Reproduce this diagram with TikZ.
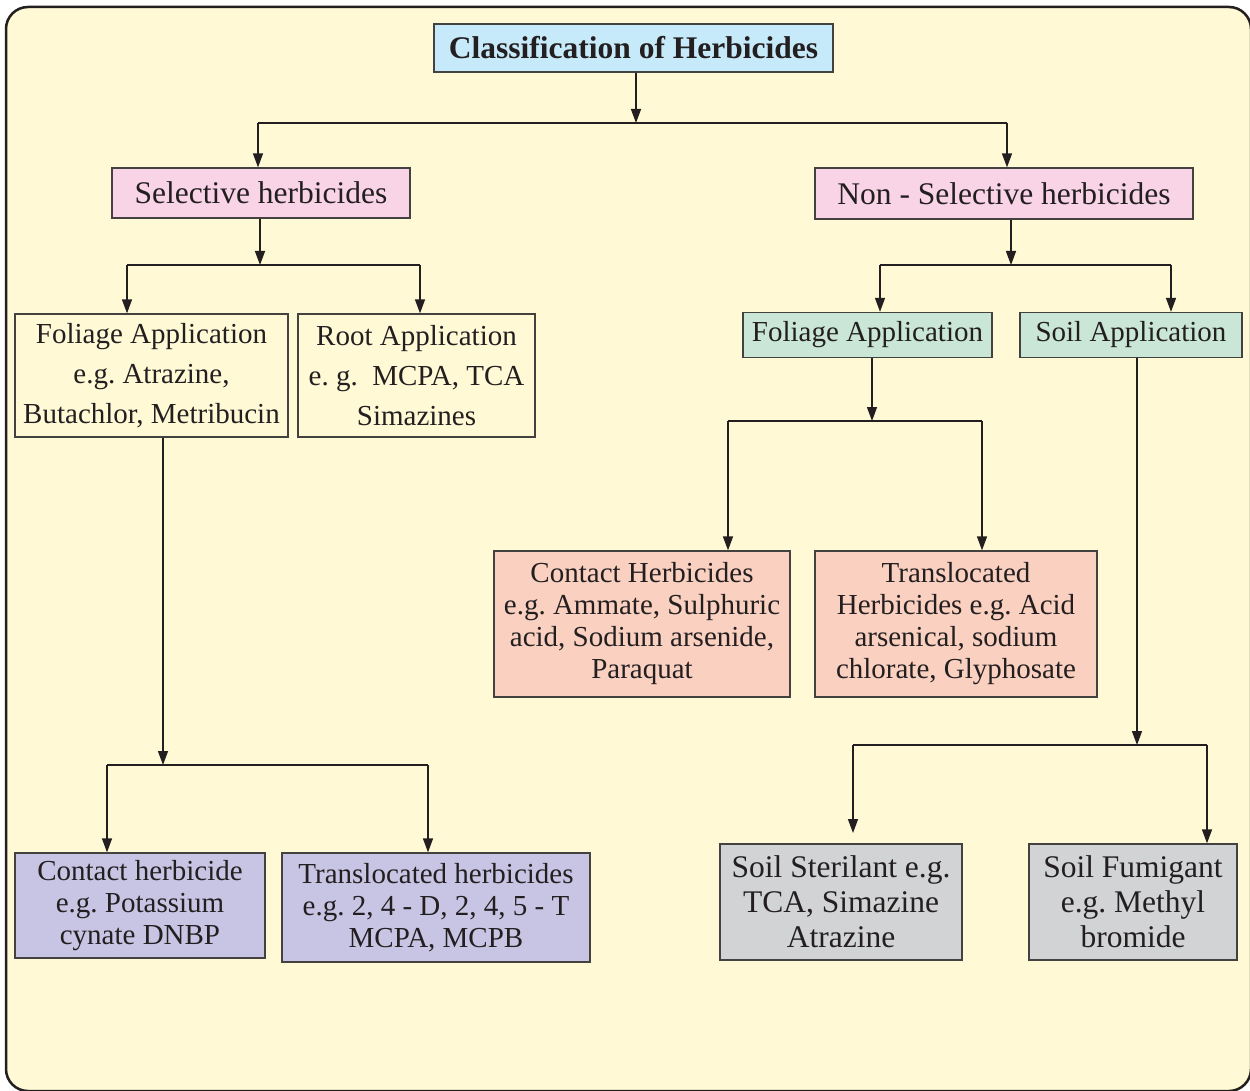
\documentclass[tikz,border=0pt]{standalone}
\usepackage{fontspec}
\setmainfont{Liberation Serif}
\usetikzlibrary{arrows.meta}
\frenchspacing
\definecolor{cream}{HTML}{FFF9D6}
\definecolor{inkc}{HTML}{231F20}
\definecolor{titlec}{HTML}{C7EAFB}
\definecolor{pinkc}{HTML}{F9D4E7}
\definecolor{greenc}{HTML}{C9E6D6}
\definecolor{salmonc}{HTML}{FAD0C0}
\definecolor{purplec}{HTML}{C8C4E4}
\definecolor{greyc}{HTML}{D1D3D4}
\tikzset{
  bx/.style={draw=inkc!85, line width=1.3pt, inner sep=0pt, align=center, text=inkc},
  fs/.style={font=\fontsize{29}{32}\selectfont},
  fsw/.style={font=\fontsize{29}{40}\selectfont},
  fsb/.style={font=\fontsize{31.5}{35}\selectfont},
  conn/.style={draw=inkc, line width=1.4pt},
  arr/.style={conn, -{Triangle[length=14pt,width=10pt]}}
}
\begin{document}
\begin{tikzpicture}[x=1pt,y=-1pt]
\useasboundingbox (0,0) rectangle (1250,1091);
\draw[line width=2.5pt, draw=inkc, fill=cream, rounded corners=22pt] (6,7) rectangle (1251,1091);

% nodes
\node[bx, fill=titlec, minimum width=399pt, minimum height=48pt, font=\fontsize{31.5}{35}\selectfont\bfseries] (title) at (633.5,48) {Classification of Herbicides};
\node[bx, fsb, fill=pinkc, minimum width=298pt, minimum height=50pt] (sel) at (261,193) {Selective herbicides};
\node[bx, fsb, fill=pinkc, minimum width=378pt, minimum height=51pt] (nonsel) at (1004,193.5) {Non - Selective herbicides};
\node[bx, fsw, fill=cream, minimum width=273pt, minimum height=123pt] (folL) at (151.5,375.5) {Foliage Application\\e.g. Atrazine,\\Butachlor, Metribucin};
\node[bx, fsw, fill=cream, minimum width=237pt, minimum height=123pt] (root) at (416.5,375.5) {Root Application\\e. g.\ \ MCPA, TCA\\Simazines};
\node[bx, fs, fill=greenc, minimum width=249pt, minimum height=45pt] (folR) at (867.5,335) {Foliage Application};
\node[bx, fs, fill=greenc, minimum width=222pt, minimum height=45pt] (soil) at (1131,335) {Soil Application};
\node[bx, fs, fill=salmonc, minimum width=296pt, minimum height=146pt] (contR) at (642,624) {Contact Herbicides\\e.g. Ammate, Sulphuric\\acid, Sodium arsenide,\\Paraquat};
\node[bx, fs, fill=salmonc, minimum width=282pt, minimum height=146pt] (transR) at (956,624) {Translocated\\Herbicides e.g. Acid\\arsenical, sodium\\chlorate, Glyphosate};
\node[bx, fs, fill=purplec, minimum width=250pt, minimum height=105pt] (contL) at (140,905.5) {Contact herbicide\\e.g. Potassium\\cynate DNBP};
\node[bx, fs, fill=purplec, minimum width=308pt, minimum height=109pt] (transL) at (436,907.5) {Translocated herbicides\\e.g. 2, 4 - D, 2, 4, 5 - T\\MCPA, MCPB};
\node[bx, fsb, fill=greyc, minimum width=242pt, minimum height=116pt] (steril) at (841,902) {Soil Sterilant e.g.\\TCA, Simazine\\Atrazine};
\node[bx, fsb, fill=greyc, minimum width=208pt, minimum height=116pt] (fumig) at (1133,902) {Soil Fumigant\\e.g. Methyl\\bromide};

% junction coordinates
\coordinate (j0) at (636,123);
\coordinate (j0L) at (258,123);
\coordinate (j0R) at (1007,123);
\coordinate (j1) at (260,265);
\coordinate (j1L) at (127,265);
\coordinate (j1R) at (420,265);
\coordinate (j2) at (163,765);
\coordinate (j2L) at (107,765);
\coordinate (j2R) at (428,765);
\coordinate (j3) at (1011,265);
\coordinate (j3L) at (880,265);
\coordinate (j3R) at (1171,265);
\coordinate (j4) at (872,421);
\coordinate (j4L) at (728,421);
\coordinate (j4R) at (982,421);
\coordinate (j5) at (1137,745);
\coordinate (j5L) at (853,745);
\coordinate (j5R) at (1207,745);
\coordinate (sterTop) at (853,833);

% connectors
\draw[arr] (title.south -| j0) -- (j0);
\draw[conn] (j0L) -- (j0R);
\draw[arr] (j0L) -- (sel.north -| j0L);
\draw[arr] (j0R) -- (nonsel.north -| j0R);

\draw[arr] (sel.south -| j1) -- (j1);
\draw[conn] (j1L) -- (j1R);
\draw[arr] (j1L) -- (folL.north -| j1L);
\draw[arr] (j1R) -- (root.north -| j1R);

\draw[arr] (folL.south -| j2) -- (j2);
\draw[conn] (j2L) -- (j2R);
\draw[arr] (j2L) -- (contL.north -| j2L);
\draw[arr] (j2R) -- (transL.north -| j2R);

\draw[arr] (nonsel.south -| j3) -- (j3);
\draw[conn] (j3L) -- (j3R);
\draw[arr] (j3L) -- (folR.north -| j3L);
\draw[arr] (j3R) -- (soil.north -| j3R);

\draw[arr] (folR.south -| j4) -- (j4);
\draw[conn] (j4L) -- (j4R);
\draw[arr] (j4L) -- (contR.north -| j4L);
\draw[arr] (j4R) -- (transR.north -| j4R);

\draw[arr] (soil.south -| j5) -- (j5);
\draw[conn] (j5L) -- (j5R);
\draw[arr] (j5L) -- (sterTop);
\draw[arr] (j5R) -- (fumig.north -| j5R);
\end{tikzpicture}
\end{document}
